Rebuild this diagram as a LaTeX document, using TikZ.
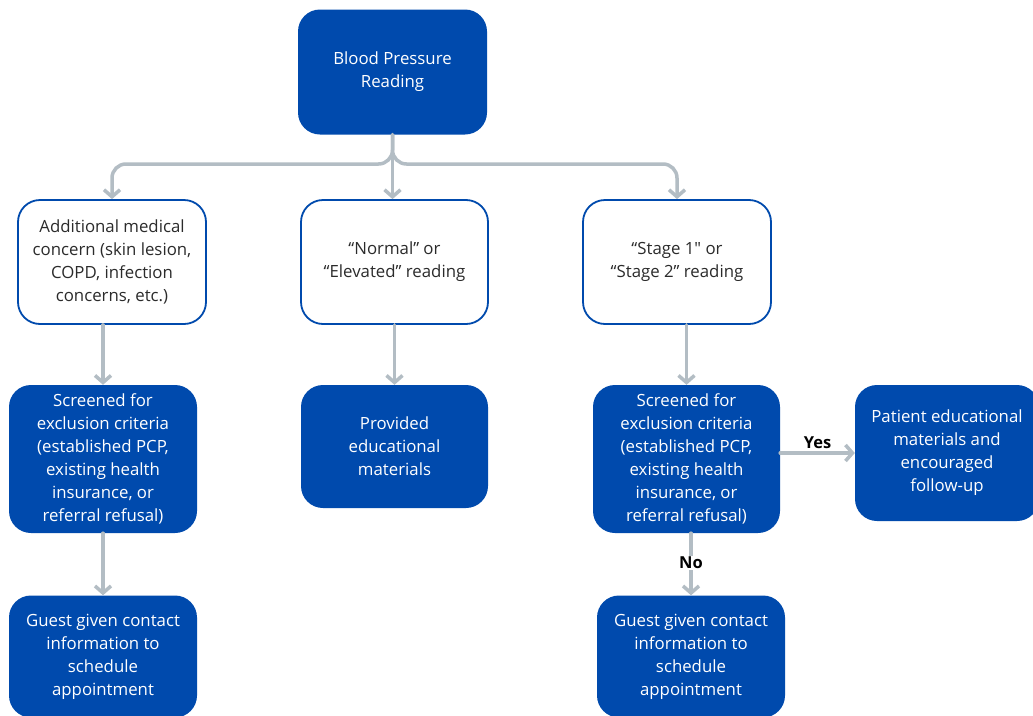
\documentclass[tikz,border=0pt]{standalone}
\usepackage{fontspec}
\setmainfont{Open Sans}
\usetikzlibrary{arrows.meta}
\definecolor{bpblue}{HTML}{004AAD}
\definecolor{bpgray}{HTML}{B3BDC4}
\definecolor{bptext}{HTML}{2B2B2B}
\newcommand{\straightq}{{\addfontfeatures{Ligatures=TeXOff}\char"22}}
\tikzset{
  x=1pt, y=-1pt,
  bluebox/.style={draw=none, fill=bpblue, text=white, rounded corners=22pt, align=center,
    inner sep=0pt, font=\fontsize{16.8}{23}\selectfont},
  whitebox/.style={draw=bpblue, line width=1.8pt, fill=white, text=bptext, rounded corners=22pt, align=center,
    inner sep=0pt, font=\fontsize{16.8}{23}\selectfont},
  conn/.style={draw=bpgray, line width=3.5pt, line cap=round,
    -{Straight Barb[length=7pt,width=16pt,line width=3.5pt]}},
  lbl/.style={font=\bfseries\fontsize{16.5}{18}\selectfont, text=black, fill=white, inner sep=1.5pt}
}
\begin{document}
\begin{tikzpicture}
\clip (0,0) rectangle (1033,715);
\fill[white] (0,0) rectangle (1033,715);

\node[bluebox, minimum width=189pt, minimum height=125pt] (top) at (392.5,72) {Blood Pressure\\Reading};

\node[whitebox, minimum width=188pt, minimum height=124pt] (l2) at (112,262) {Additional medical\\concern (skin lesion,\\COPD, infection\\concerns, etc.)};
\node[whitebox, minimum width=187pt, minimum height=124pt] (m2) at (394.5,262) {“Normal” or\\“Elevated” reading};
\node[whitebox, minimum width=188pt, minimum height=124pt] (r2) at (677,262) {“Stage 1\straightq{} or\\“Stage 2” reading};

\node[bluebox, minimum width=188pt, minimum height=148pt] (l3) at (103,459) {Screened for\\exclusion criteria\\(established PCP,\\existing health\\insurance, or\\referral refusal)};
\node[bluebox, minimum width=187pt, minimum height=123pt] (m3) at (394.5,446.5) {Provided\\educational\\materials};
\node[bluebox, minimum width=187pt, minimum height=148pt] (r3) at (686.5,459) {Screened for\\exclusion criteria\\(established PCP,\\existing health\\insurance, or\\referral refusal)};
\node[bluebox, minimum width=184pt, minimum height=136pt] (pe) at (947,453) {Patient educational\\materials and\\encouraged\\follow-up};

\node[bluebox, minimum width=188pt, minimum height=122pt] (l4) at (103,656.5) {Guest given contact\\information to\\schedule\\appointment};
\node[bluebox, minimum width=188pt, minimum height=122pt] (r4) at (691,656.5) {Guest given contact\\information to\\schedule\\appointment};

\coordinate (jl) at (112,164);
\coordinate (jr) at (677,164);
\draw[conn, rounded corners=14pt] (top.south) |- (jl) -- (l2.north);
\draw[conn, rounded corners=14pt] (top.south) |- (jr) -- (r2.north);
\draw[conn] (top.south) -- (top.south |- m2.north);

\draw[conn] (l2.south -| l3.north) -- (l3.north);
\draw[conn] (m2.south) -- (m3.north);
\draw[conn] (r2.south -| r3.north) -- (r3.north);
\draw[conn] (l3.south) -- (l4.north);
\draw[conn] (r3.south -| r4.north) -- (r4.north) node[lbl, pos=0.48] {No};
\draw[conn] (r3.east |- pe.west) -- (pe.west) node[lbl, pos=0.5, above=1pt, fill=none] {Yes};
\end{tikzpicture}
\end{document}
